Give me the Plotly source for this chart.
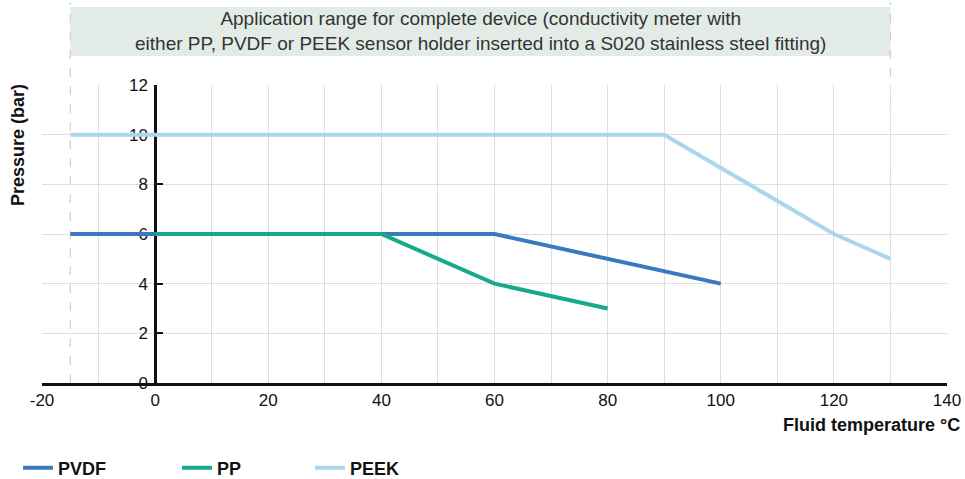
import plotly.graph_objects as go

# Data
pvdf_t = [-15, 60, 100]
pvdf_p = [6, 6, 4]
pp_t = [0, 40, 60, 80]
pp_p = [6, 6, 4, 3]
peek_t = [-15, 90, 120, 130]
peek_p = [10, 10, 6, 5]

x_ticks = [-20, 0, 20, 40, 60, 80, 100, 120, 140]
x_tick_text = ["-20", "0", "20", "40", "60", "80", "100", "120", "140"]
y_ticks = [0, 2, 4, 6, 8, 10, 12]
banner_range = [-15, 130]
banner_text = ("Application range for complete device (conductivity meter with<br>"
               "either PP, PVDF or PEEK sensor holder inserted into a S020 stainless steel fitting)")

FONT = "Liberation Sans, Arial, Helvetica, sans-serif"
W, H = 965, 479
ML, MR, MT, MB = 42, 18, 85, 96
plot_h = H - MT - MB
plot_w = W - ML - MR

def py(pix):  # screen pixel y -> paper fraction
    return (H - MB - pix) / plot_h

def px(pix):  # screen pixel x -> paper fraction
    return (pix - ML) / plot_w

fig = go.Figure()
fig.add_trace(go.Scatter(x=pvdf_t, y=pvdf_p, mode="lines", name="PVDF",
                         line=dict(color="#3a79c1", width=4), legend="legend"))
fig.add_trace(go.Scatter(x=pp_t, y=pp_p, mode="lines", name="PP",
                         line=dict(color="#18a98b", width=4), legend="legend2"))
fig.add_trace(go.Scatter(x=peek_t, y=peek_p, mode="lines", name="PEEK",
                         line=dict(color="#abd6eb", width=4), legend="legend3"))

leg_common = dict(orientation="h", xref="container", yref="container",
                  yanchor="middle", xanchor="left", bgcolor="rgba(0,0,0,0)",
                  font=dict(family=FONT, size=18, color="#111", weight="bold"),
                  itemwidth=30)
leg_y = (479 - 468) / H

fig.update_layout(
    width=W, height=H,
    margin=dict(l=ML, r=MR, t=MT, b=MB, autoexpand=False),
    paper_bgcolor="white", plot_bgcolor="white",
    font=dict(family=FONT, size=17, color="#111"),
    showlegend=True,
    legend=dict(x=18 / W, y=leg_y, **leg_common),
    legend2=dict(x=177 / W, y=leg_y, **leg_common),
    legend3=dict(x=310 / W, y=leg_y, **leg_common),
    xaxis=dict(range=[-20, 140], tickvals=x_ticks, ticktext=x_tick_text, showgrid=True,
               gridcolor="#dedede", gridwidth=1, automargin=False,
               minor=dict(dtick=10, showgrid=True, gridcolor="#dedede", gridwidth=1),
               zeroline=False, showline=True, linecolor="#111", linewidth=3,
               ticks="", tickfont=dict(size=17, color="#111")),
    yaxis=dict(range=[0, 12], tickvals=y_ticks, showgrid=True,
               gridcolor="#dedede", gridwidth=1, zeroline=False, automargin=False,
               anchor="free", position=20 / 160, showline=True,
               linecolor="#111", linewidth=2.5, ticks="inside", ticklen=6,
               tickwidth=2, tickcolor="#111", layer="below traces",
               ticklabelstandoff=3,
               tickfont=dict(size=17, color="#111")),
)

# banner background
fig.add_shape(type="rect", xref="x", yref="paper",
              x0=banner_range[0], x1=banner_range[1], y0=py(56), y1=py(7),
              fillcolor="#e3ebe7", line=dict(width=0), layer="below")
# dashed boundary lines
for xv in banner_range:
    fig.add_shape(type="line", xref="x", yref="paper", x0=xv, x1=xv,
                  y0=0, y1=py(2), line=dict(color="#cfcfcf", width=1.2, dash="dash"),
                  layer="below")

fig.add_annotation(x=sum(banner_range) / 2, xref="x", y=py(31), yref="paper",
                   text=banner_text, showarrow=False, xanchor="center", yanchor="middle",
                   font=dict(family=FONT, size=19, color="#333"), align="center")

fig.add_annotation(x=px(18), xref="paper", y=py(145), yref="paper",
                   text="Pressure (bar)", textangle=-90, showarrow=False,
                   xanchor="center", yanchor="middle",
                   font=dict(family=FONT, size=18, color="#111", weight="bold"))

fig.add_annotation(x=px(962), xref="paper", y=py(425), yref="paper",
                   text="Fluid temperature °C", showarrow=False,
                   xanchor="right", yanchor="middle",
                   font=dict(family=FONT, size=18, color="#111", weight="bold"))

fig.write_html("out.html",
               config={"displayModeBar": False},
               post_script="document.body.style.margin='0px';document.body.style.overflow='hidden';")
